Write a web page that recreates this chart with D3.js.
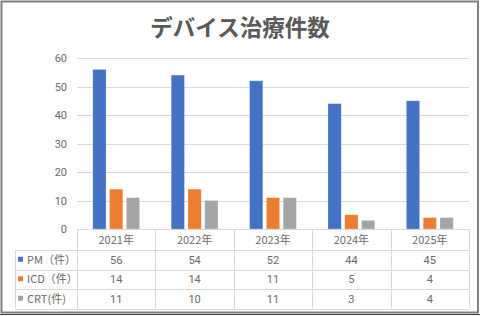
<!DOCTYPE html>
<html>
<head>
<meta charset="utf-8">
<script src="https://cdn.jsdelivr.net/npm/d3@7"></script>
<style>
  html, body { margin: 0; padding: 0; background: #fff; }
  svg { display: block; font-family: 'Noto Sans CJK JP', 'Noto Sans', sans-serif; }
</style>
</head>
<body>
<script>
// Data
const years = ['2021年', '2022年', '2023年', '2024年', '2025年']
const seriesNames = ['PM（件）', 'ICD（件）', 'CRT(件)']
const pmValues = [56, 54, 52, 44, 45]
const icdValues = [14, 14, 11, 5, 4]
const crtValues = [11, 10, 11, 3, 4]
const yTicks = [0, 10, 20, 30, 40, 50, 60]
const colors = ['#4472C4', '#ED7D31', '#A5A5A5']

const series = [pmValues, icdValues, crtValues]

const width = 480
const height = 316
const margins = { left: 77, right: 11, top: 58, bottom: 87 }
const titleColor = '#595959'
const textColor = '#6a6a6a'
const gridColor = '#d9d9d9'

const svg = d3.select('body').append('svg')
  .attr('width', width)
  .attr('height', height)

// Frame
svg.append('rect')
  .attr('x', 1.5).attr('y', 1.5)
  .attr('width', 476.5).attr('height', 311)
  .attr('fill', '#fff')
  .attr('stroke', '#7f7f7f')
  .attr('stroke-width', 2)
svg.append('line')
  .attr('x1', 0).attr('x2', 480)
  .attr('y1', 314.5).attr('y2', 314.5)
  .attr('stroke', '#404040')
  .attr('stroke-width', 1.2)

// Title
svg.append('text')
  .attr('x', 240)
  .attr('y', 36)
  .attr('text-anchor', 'middle')
  .attr('fill', titleColor)
  .attr('font-size', 22.5)
  .attr('font-weight', 'bold')
  .text('デバイス治療件数')

// Scales
const xScale = d3.scaleBand()
  .domain(years)
  .range([margins.left, width - margins.right])

const yScale = d3.scaleLinear()
  .domain([0, 60])
  .range([height - margins.bottom, margins.top])

const xSub = d3.scaleBand()
  .domain(d3.range(series.length))
  .range([0, xScale.bandwidth()])
  .paddingInner(0.21)
  .paddingOuter(0.94)

// Gridlines
svg.append('g')
  .selectAll('line')
  .data(yTicks.filter(t => t > 0))
  .join('line')
  .attr('x1', margins.left)
  .attr('x2', width - margins.right)
  .attr('y1', d => Math.round(yScale(d)) + 0.5)
  .attr('y2', d => Math.round(yScale(d)) + 0.5)
  .attr('stroke', gridColor)
  .attr('stroke-width', 1)

// Y axis labels
svg.append('g')
  .selectAll('text')
  .data(yTicks)
  .join('text')
  .attr('x', 67)
  .attr('y', d => yScale(d) + 4)
  .attr('text-anchor', 'end')
  .attr('fill', textColor)
  .attr('font-size', 11)
  .attr('font-family', 'Roboto, sans-serif')
  .text(d => d)

// Bars
series.forEach((values, si) => {
  svg.append('g')
    .selectAll('rect')
    .data(values)
    .join('rect')
    .attr('x', (d, i) => xScale(years[i]) + xSub(si))
    .attr('y', d => yScale(d))
    .attr('width', xSub.bandwidth())
    .attr('height', d => yScale(0) - yScale(d))
    .attr('fill', colors[si])
    .attr('stroke', '#fff')
    .attr('stroke-opacity', 0.4)
    .attr('stroke-width', 0.6)
})

// Data table
const rowLines = [yScale(0), 250, 269.5, 289, 308.5]
const tableLeft = 15
const tableRight = width - margins.right
const table = svg.append('g')
  .attr('stroke', gridColor)
  .attr('stroke-width', 1)

// horizontal lines
rowLines.forEach((y, i) => {
  table.append('line')
    .attr('x1', i === 0 ? margins.left : tableLeft)
    .attr('x2', tableRight)
    .attr('y1', Math.round(y) + 0.5)
    .attr('y2', Math.round(y) + 0.5)
})
// vertical lines
const xEdges = years.map(y => xScale(y)).concat([xScale.range()[1]])
xEdges.forEach(x => {
  table.append('line')
    .attr('x1', Math.round(x) + 0.5)
    .attr('x2', Math.round(x) + 0.5)
    .attr('y1', rowLines[0])
    .attr('y2', rowLines[4])
})
table.append('line')
  .attr('x1', tableLeft + 0.5).attr('x2', tableLeft + 0.5)
  .attr('y1', rowLines[1]).attr('y2', rowLines[4])

// header labels
svg.append('g')
  .selectAll('text')
  .data(years)
  .join('text')
  .attr('x', d => xScale(d) + xScale.bandwidth() / 2)
  .attr('y', 244)
  .attr('text-anchor', 'middle')
  .attr('fill', textColor)
  .attr('font-size', 11)
  .text(d => d)

// rows
series.forEach((values, si) => {
  const yMid = (rowLines[si + 1] + rowLines[si + 2]) / 2
  const row = svg.append('g')
  row.append('rect')
    .attr('x', 18)
    .attr('y', yMid - 3)
    .attr('width', 5)
    .attr('height', 5)
    .attr('fill', colors[si])
  row.append('text')
    .attr('x', 27)
    .attr('y', yMid + 4)
    .attr('fill', textColor)
    .attr('font-size', 11)
    .text(seriesNames[si])
  row.selectAll('text.v')
    .data(values)
    .join('text')
    .attr('class', 'v')
    .attr('x', (d, i) => xScale(years[i]) + xScale.bandwidth() / 2)
    .attr('y', yMid + 4)
    .attr('text-anchor', 'middle')
    .attr('fill', textColor)
    .attr('font-size', 11)
    .attr('font-family', 'Roboto, sans-serif')
    .text(d => d)
})
</script>
</body>
</html>
